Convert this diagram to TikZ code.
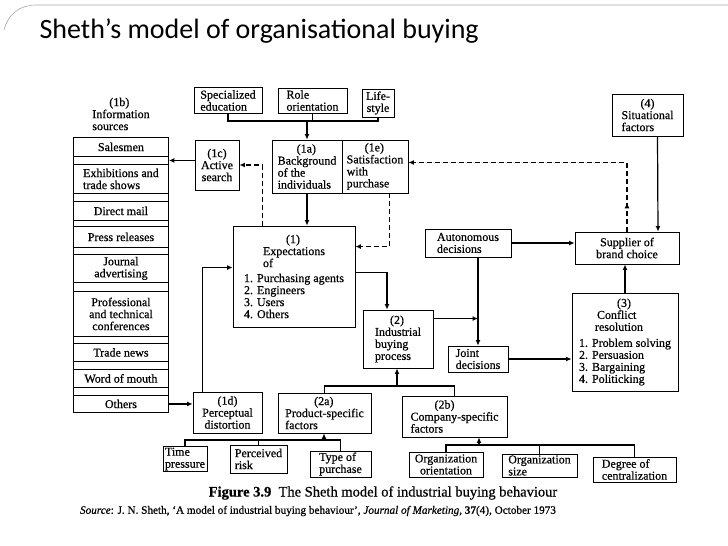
\documentclass[tikz,border=0pt]{standalone}
\usepackage{fontspec}
\setmainfont{Liberation Serif}
\newfontfamily\scanfont{Liberation Serif}[FakeBold=0.6]
\newfontfamily\headfont{Carlito}
\usetikzlibrary{arrows.meta,calc,decorations.markings}

\begin{document}
\begin{tikzpicture}[x=1pt, y=-1pt,
  box/.style={draw, line width=0.9pt, inner xsep=1.5pt, inner ysep=1pt, font=\scanfont\fontsize{12}{12}\selectfont},
  cell/.style={box, minimum width=95, anchor=north west, align=center},
  link/.style={line width=1.2pt},
  arr/.style={link, -{Latex[length=5.5pt,width=5pt]}},
  fbk/.style={arr, dash pattern=on 5pt off 3pt},
  upmark/.style={postaction={decorate}, decoration={markings,
      mark=at position 0.1 with {\arrow{Latex[length=5.5pt,width=5pt]}}}}]
  \useasboundingbox (0,0) rectangle (728,546);
  % slide frame and title
  \draw[gray!70, line width=0.6pt] (4,30) .. controls (8,14) and (20,5) .. (36,5) -- (728,5);
  \node[font=\headfont\fontsize{28}{32}\selectfont, anchor=base west] (title) at (36,38) {Sheth’s model of organisational buying};
  % (1b) information sources column
  \node[align=left, font=\scanfont\fontsize{12}{12}\selectfont] (infolbl) at (121,114) {\hspace*{17pt}(1b)\\Information\\sources};
  \node[cell, minimum height=19] (sal) at (73,137) {Salesmen};
  \node[cell, minimum height=8] (gap1) at (73,156) {};
  \node[cell, minimum height=29, align=left] (exh) at (73,164) {Exhibitions and\\trade shows};
  \node[cell, minimum height=8] (gap2) at (73,193) {};
  \node[cell, minimum height=19] (dm) at (73,201) {Direct mail};
  \node[cell, minimum height=6] (gap3) at (73,220) {};
  \node[cell, minimum height=21] (pr) at (73,226) {Press releases};
  \node[cell, minimum height=7] (gap4) at (73,247) {};
  \node[cell, minimum height=28] (ja) at (73,254) {Journal\\advertising};
  \node[cell, minimum height=9] (gap5) at (73,282) {};
  \node[cell, minimum height=45] (ptc) at (73,291) {Professional\\and technical\\conferences};
  \node[cell, minimum height=7] (gap6) at (73,336) {};
  \node[cell, minimum height=18] (tn) at (73,343) {Trade news};
  \node[cell, minimum height=8] (gap7) at (73,361) {};
  \node[cell, minimum height=18] (wom) at (73,369) {Word of mouth};
  \node[cell, minimum height=8] (gap8) at (73,387) {};
  \node[cell, minimum height=17] (oth) at (73,395) {Others};
  % background of the individuals
  \node[box, minimum width=68, minimum height=26, align=left] (spec) at (228,100.5) {Specialized\\education};
  \node[box, minimum width=69, minimum height=25, align=left] (role) at (312.5,100.5) {Role\\orientation};
  \node[box, minimum width=32, minimum height=28, align=center] (life) at (378,103) {Life-\\style};
  \node[box, minimum width=70, minimum height=53, align=left] (bg) at (307,166.5) {\hspace*{19pt}(1a)\\Background\\of the\\individuals};
  \node[box, minimum width=66, minimum height=53, align=left] (sat) at (375,166.5) {\hspace*{18pt}(1e)\\Satisfaction\\with\\purchase};
  \node[box, minimum width=44, minimum height=50, align=center] (ac) at (217,165) {(1c)\\Active\\search};
  \node[box, minimum width=122, minimum height=101, align=left] (exp) at (294,276.5) {\hspace*{42pt}(1)\\\hspace*{19pt}Expectations\\\hspace*{19pt}of\\[3pt]1. Purchasing agents\\2. Engineers\\3. Users\\4. Others};
  \node[box, minimum width=69, minimum height=41, align=center] (pd) at (227.5,412.5) {(1d)\\Perceptual\\distortion};
  % buying process and decisions
  \node[box, minimum width=71, minimum height=42, align=left] (sit) at (647.5,115) {\hspace*{19pt}(4)\\Situational\\factors};
  \node[box, minimum width=104, minimum height=32, align=center] (sup) at (627,248) {Supplier of\\brand choice};
  \node[box, minimum width=86, minimum height=28, align=left] (auto) at (468,243) {Autonomous\\decisions};
  \node[box, minimum width=60, minimum height=26, align=left] (joint) at (478,359) {Joint\\decisions};
  \node[box, minimum width=70, minimum height=58, align=left] (ibp) at (398,339) {\hspace*{15pt}(2)\\Industrial\\buying\\process};
  \node[box, minimum width=106, minimum height=98, align=left] (conf) at (625,342) {\hspace*{38pt}(3)\\\hspace*{18pt}Conflict\\\hspace*{16pt}resolution\\[4pt]1. Problem solving\\2. Persuasion\\3. Bargaining\\4. Politicking};
  % product and company factors
  \node[box, minimum width=93, minimum height=40, align=left] (psf) at (324.5,413) {\hspace*{29pt}(2a)\\Product-specific\\factors};
  \node[box, minimum width=105, minimum height=41, align=left] (csf) at (454.5,416.5) {\hspace*{24pt}(2b)\\Company-specific\\factors};
  \node[box, minimum width=44, minimum height=24, align=left] (time) at (185,459) {Time\\pressure};
  \node[box, minimum width=57, minimum height=28, align=left] (risk) at (258.5,459) {Perceived\\risk};
  \node[box, minimum width=61, minimum height=26, align=left] (typ) at (340.5,464) {Type of\\purchase};
  \node[box, minimum width=74, minimum height=25, align=center] (oo) at (446,464.5) {Organization\\orientation};
  \node[box, minimum width=75, minimum height=23, align=left] (os) at (539.5,465.5) {Organization\\size};
  \node[box, minimum width=83, minimum height=25, align=left] (dc) at (634.5,469.5) {Degree of\\centralization};
  % connectors
  \coordinate (topj) at (307,121);
  \draw[link] (spec.south) |- (topj) -| (life.south);
  \draw[link] (role.south) -- (role.south |- topj);
  \draw[arr] (topj) -- (bg.north);
  \draw[arr] (ac.west |- gap1.east) -- (gap1.east);
  \draw[fbk] ($(exp.north west)+(30,0)$) |- (ac.east);
  \draw[arr] (bg.south) -- (bg.south |- exp.north);
  \coordinate (satin) at ($(exp.north east)+(0,21)$);
  \draw[fbk] ($(sat.south east)+(-19,0)$) |- (satin);
  \draw[fbk, upmark] (sup.north) |- ($(sat.east)+(0,-4)$);
  \draw[arr] ($(sit.south)+(10,0)$) -- ($(sup.north)+(31,0)$);
  \draw[arr] (auto.east) -- (auto.east -| sup.west);
  \draw[arr] (conf.north) -- (conf.north |- sup.south);
  \draw[arr] (joint.north |- auto.south) -- (joint.north);
  \coordinate (ibpout) at ($(ibp.north east)+(0,9)$);
  \draw[arr] (ibpout) -- (ibpout -| joint.north);
  \draw[arr] (joint.east) -- (joint.east -| conf.west);
  \coordinate (expout) at ($(exp.north east)+(0,47)$);
  \draw[arr] (expout) -| ($(ibp.north)+(-11,0)$);
  \draw[arr] (oth.east) -- (oth.east -| pd.west);
  \coordinate (expin) at ($(exp.north west)+(0,42)$);
  \draw[arr] ($(pd.north)+(-25,0)$) |- (expin);
  \coordinate (midj) at (397,386);
  \draw[link] (psf.north) |- (midj) -| (csf.north);
  \draw[arr] (midj) -- (midj |- ibp.south);
  \coordinate (pj) at (324,440);
  \draw[link] (time.north) |- (pj) -| (typ.north);
  \draw[link] (risk.north) -- (risk.north |- pj);
  \draw[arr] (pj) -- (pj |- psf.south);
  \coordinate (cj) at (479,445);
  \draw[link] (oo.north) |- (cj) -| (dc.north);
  \draw[link] (os.north) -- (os.north |- cj);
  \draw[arr] (cj) -- (cj |- csf.south);
  % caption
  \node[font=\scanfont\fontsize{14.5}{16}\selectfont] (cap) at (383,493) {\textbf{Figure 3.9}\enspace The Sheth model of industrial buying behaviour};
  \node[font=\scanfont\fontsize{11.2}{13}\selectfont] (src) at (318,511) {\textit{Source}: J. N. Sheth, ‘A model of industrial buying behaviour’, \textit{Journal of Marketing}, \textbf{37}(4), October 1973};
\end{tikzpicture}
\end{document}
